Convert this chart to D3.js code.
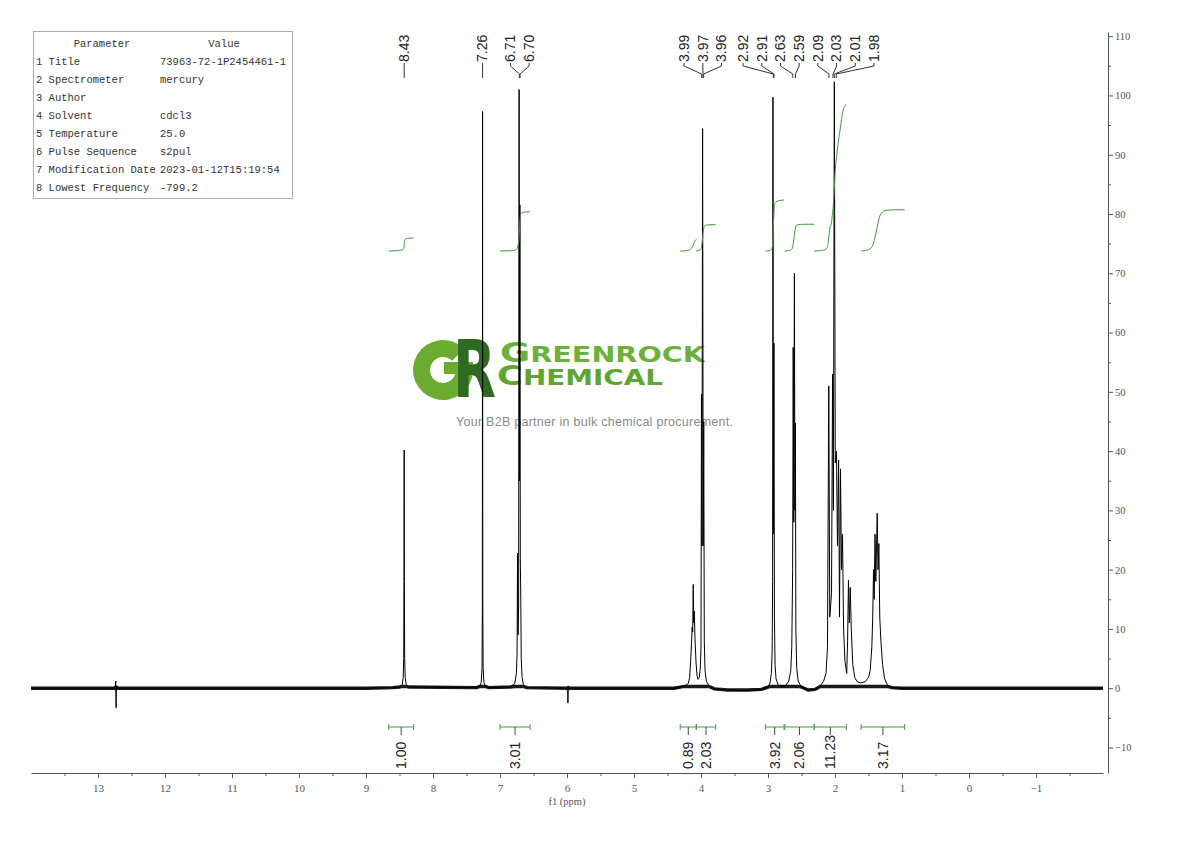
<!DOCTYPE html>
<html><head><meta charset="utf-8">
<script src="https://cdn.jsdelivr.net/npm/d3@7"></script>
<style>body{margin:0;background:#fff}svg{display:block}</style>
</head><body>
<svg id="c" width="1190" height="841"></svg>
<script>
// ---------------- DATA ----------------
const paramNames = ["1 Title","2 Spectrometer","3 Author","4 Solvent","5 Temperature","6 Pulse Sequence","7 Modification Date","8 Lowest Frequency"];
const paramValues = ["73963-72-1P2454461-1","mercury","","cdcl3","25.0","s2pul","2023-01-12T15:19:54","-799.2"];

const xTicks = [13,12,11,10,9,8,7,6,5,4,3,2,1,0,-1];
const xMinorTicks = [13.5,12.5,11.5,10.5,9.5,8.5,7.5,6.5,5.5,4.5,3.5,2.5,1.5,0.5,-0.5,-1.5];
const yTicks = [-10,0,10,20,30,40,50,60,70,80,90,100,110];
const yMinorTicks = [-5,5,15,25,35,45,55,65,75,85,95,105];

// spectrum [ppm, intensity]
const spectrum = [
[14.0,0],[12.745,0],[12.735,1.2],[12.73,-3.3],[12.725,0.4],[12.715,0],
[9.0,0],[8.6,0.1],
[8.50,0.2],[8.46,0.6],[8.445,1.8],[8.437,5],[8.433,18],[8.430,40.2],[8.427,18],[8.423,5],[8.415,1.8],[8.40,0.6],[8.36,0.2],
[7.35,0.1],[7.30,0.4],[7.28,1],[7.268,3.5],[7.263,15],[7.260,97.3],[7.257,15],[7.252,3.5],[7.24,1],[7.22,0.4],[7.17,0.1],
[6.85,0.2],[6.78,0.8],[6.755,2.5],[6.745,6],[6.738,22.8],[6.731,9],[6.722,14],[6.715,101],[6.709,35],[6.703,81.5],[6.697,22],[6.689,14.3],[6.683,5],[6.67,1.8],[6.65,0.6],[6.60,0.1],
[6.0,0],[5.99,0],[5.986,-2.5],[5.982,0.4],[5.978,0],
[4.40,0],[4.25,0.3],[4.19,0.8],[4.17,1.8],[4.155,4.5],[4.14,8],[4.132,10.3],[4.124,9.5],[4.116,17.5],[4.108,11],[4.10,13],[4.09,8.5],[4.075,4.5],[4.06,2.2],[4.045,1.5],[4.025,1.8],[4.01,3.5],[4.0,7],
[3.993,49.6],[3.985,24],[3.976,94.4],[3.967,24],[3.959,45],[3.951,8],[3.94,3],[3.92,1.2],[3.88,0.4],[3.80,-0.1],[3.6,-0.3],[3.3,-0.4],[3.1,-0.2],
[3.00,0.2],[2.97,0.9],[2.95,2.5],[2.938,6],[2.931,18],[2.926,99.7],[2.919,26],[2.911,58.2],[2.904,12],[2.895,4],[2.88,1.6],[2.85,0.6],[2.80,0.3],[2.74,0.4],[2.69,1.2],[2.66,3],[2.645,7],
[2.632,20],[2.624,57.5],[2.615,28],[2.606,70],[2.598,30],[2.591,44.7],[2.584,10],[2.572,3.5],[2.55,1.2],[2.50,0.2],[2.40,-0.3],[2.30,-0.2],[2.22,0.4],[2.17,1.2],
[2.134,2.5],[2.112,7],[2.093,51],[2.078,12],[2.052,16],[2.036,53],[2.024,30],[2.010,102.3],[1.996,38],[1.978,40],[1.963,24],[1.946,38.5],[1.933,12],[1.918,37],[1.903,20],[1.888,26],[1.872,10],[1.851,4.5],[1.825,2.5],[1.812,8],[1.799,18.2],[1.787,11],[1.772,17],[1.757,10],[1.735,4],[1.705,1.8],[1.67,1.1],[1.62,0.9],[1.55,1.1],[1.50,1.8],[1.475,3],[1.45,7],
[1.437,12],[1.425,20],[1.414,15],[1.403,26],[1.39,18],[1.370,29.5],[1.358,20],[1.345,24.4],[1.332,12],[1.315,8],[1.29,4],[1.26,1.6],[1.22,0.6],[1.15,0.1],[1.0,0],[-2.0,0]
];

// peak labels (multiplet groups)
const peakGroups = [[8.43],[7.26],[6.71,6.70],[3.99,3.97,3.96],[2.92,2.91],[2.63,2.59],[2.09,2.03,2.01,1.98]];

// integrals
const integralFrom = [8.66,7.00,4.31,4.07,3.04,2.75,2.31,1.61];
const integralTo   = [8.29,6.55,4.07,3.78,2.76,2.31,1.83,0.96];
const integralValues = [1.00,3.01,0.89,2.03,3.92,2.06,11.23,3.17];

// ---------------- DRAW ----------------
const svg = d3.select("#c");
const x = d3.scaleLinear().domain([14,-2]).range([31,1103]);
const y = d3.scaleLinear().domain([-14.3,110.7]).range([773,32]);
const yi = d3.scaleLinear().domain([0,12]).range([251,251-12*13]);

// ---- watermark logo ----
const logo = svg.append("g");
const gArc = d3.arc().innerRadius(13).outerRadius(30).startAngle(Math.PI/2).endAngle(2*Math.PI+Math.PI/4);
logo.append("path").attr("d",gArc()).attr("transform","translate(443,370)").attr("fill","#6aab30");
logo.append("rect").attr("x",444).attr("y",362).attr("width",29).attr("height",12).attr("fill","#6aab30");
logo.append("text").text("R").attr("x",453).attr("y",397)
  .attr("font-family","DejaVu Sans").attr("font-weight","bold").attr("font-size",80)
  .attr("textLength",43).attr("lengthAdjust","spacingAndGlyphs").attr("fill","#2e6a1f");
function capsText(big, rest, bx, by, bigSize, restSize, width, color){
  const t = logo.append("text").attr("font-family","DejaVu Sans").attr("font-weight","bold").attr("fill",color);
  t.append("tspan").attr("font-size",bigSize).text(big);
  t.append("tspan").attr("font-size",restSize).text(rest);
  const len = t.node().getComputedTextLength();
  t.attr("transform",`translate(${bx},${by}) scale(${width/len},1)`);
}
capsText("G","REENROCK",500,362,27,21,205,"#6cb23a");
capsText("C","HEMICAL",497,385,26,20.5,166,"#5fa62f");
logo.append("text").text("Your B2B partner in bulk chemical procurement.")
  .attr("x",594.5).attr("y",426).attr("text-anchor","middle")
  .attr("font-family","Liberation Sans").attr("font-size",12.5).attr("fill","#8a8a8a")
  .attr("textLength",277).attr("lengthAdjust","spacing");

// ---- parameter table ----
const tbl = svg.append("g").attr("font-family","Liberation Mono").attr("font-size",10.5).attr("fill","#333");
tbl.append("rect").attr("x",33.5).attr("y",31.5).attr("width",259).attr("height",167).attr("fill","#fff").attr("stroke","#aaa");
tbl.append("text").attr("x",102).attr("y",47).attr("text-anchor","middle").text("Parameter");
tbl.append("text").attr("x",224).attr("y",47).attr("text-anchor","middle").text("Value");
paramNames.forEach((n,i)=>{
  tbl.append("text").attr("x",36).attr("y",65+i*18).text(n);
  tbl.append("text").attr("x",160).attr("y",65+i*18).text(paramValues[i]);
});

// ---- axes ----
const axFont = "Liberation Serif";
const xg = svg.append("g").attr("transform","translate(0,773)")
  .call(d3.axisBottom(x).tickValues(xTicks).tickSize(5).tickSizeOuter(0).tickPadding(6).tickFormat(d3.format("d")));
svg.append("g").attr("transform","translate(0,773)")
  .call(d3.axisBottom(x).tickValues(xMinorTicks).tickSize(3).tickSizeOuter(0).tickFormat(""))
  .select(".domain").remove();
const yg = svg.append("g").attr("transform","translate(1108,0)")
  .call(d3.axisRight(y).tickValues(yTicks).tickSize(5).tickSizeOuter(0).tickPadding(2).tickFormat(d3.format("d")));
svg.append("g").attr("transform","translate(1108,0)")
  .call(d3.axisRight(y).tickValues(yMinorTicks).tickSize(3).tickSizeOuter(0).tickFormat(""))
  .select(".domain").remove();
svg.selectAll(".domain").attr("stroke","#555");
svg.selectAll(".tick line").attr("stroke","#555");
xg.selectAll("text").attr("font-family",axFont).attr("font-size",11).attr("fill","#555");
yg.selectAll("text").attr("font-family",axFont).attr("font-size",10.5).attr("fill","#555");
svg.append("text").text("f1 (ppm)").attr("x",567).attr("y",805).attr("text-anchor","middle")
  .attr("font-family",axFont).attr("font-size",10.5).attr("fill","#555");

// ---- spectrum ----
const band = d3.line().x(d=>x(d[0])).y(d=>y(Math.max(-0.3,Math.min(0.3,d[1]))));
svg.append("path").attr("d",band(spectrum)).attr("fill","none").attr("stroke","#1a1a1a").attr("stroke-width",3.4);
const line = d3.line().x(d=>x(d[0])).y(d=>y(d[1]));
svg.append("path").attr("d",line(spectrum)).attr("fill","none").attr("stroke","#000").attr("stroke-width",1);

// ---- integral curves ----
const icurve = d3.line().x(d=>d[0]).y(d=>d[1]).curve(d3.curveMonotoneX);
integralValues.forEach((val,i)=>{
  const a = integralFrom[i], b = integralTo[i];
  const seq = [[a,0]].concat(spectrum.filter(d=>d[0]<a && d[0]>b).map(d=>[d[0],Math.max(0,d[1])])).concat([[b,0]]);
  const cum=[0];
  for(let k=1;k<seq.length;k++) cum.push(cum[k-1]+(seq[k-1][0]-seq[k][0])*(seq[k-1][1]+seq[k][1])/2);
  const tot = cum[cum.length-1];
  const pts = seq.map((d,k)=>[x(d[0]), yi(val*cum[k]/tot)]);
  svg.append("path").attr("d",icurve(pts)).attr("fill","none").attr("stroke","#3a9a3a").attr("stroke-width",1);
});

// ---- integral brackets & labels ----
const ib = svg.append("g");
integralValues.forEach((val,i)=>{
  const x1 = x(integralFrom[i]), x2 = x(integralTo[i]), cx = (x1+x2)/2;
  ib.append("line").attr("x1",x1).attr("x2",x2).attr("y1",727).attr("y2",727).attr("stroke","#4a9a4a");
  [x1,x2].forEach(xx=>ib.append("line").attr("x1",xx).attr("x2",xx).attr("y1",724).attr("y2",730).attr("stroke","#4a9a4a"));
  ib.append("line").attr("x1",cx).attr("x2",cx).attr("y1",727).attr("y2",735).attr("stroke","#444");
  ib.append("text").text(val.toFixed(2)).attr("transform",`translate(${cx},769) rotate(-90)`)
    .attr("dy","0.35em").attr("font-family","Liberation Sans").attr("font-size",14).attr("fill","#222");
});

// ---- peak labels with overlap resolution ----
const GAP = 18.7;
let blocks = peakGroups.map(g=>{
  const c = d3.mean(g,p=>x(p)), n=g.length;
  return {labels: g.map((p,k)=>({ppm:p, want:c+(k-(n-1)/2)*GAP}))};
});
const bstart = b => d3.mean(b.labels,(l,k)=>l.want-k*GAP);
let changed = true;
while(changed){
  changed=false;
  for(let i=0;i<blocks.length-1;i++){
    const A=blocks[i],B=blocks[i+1];
    const aEnd = bstart(A)+(A.labels.length-1)*GAP;
    if(bstart(B)-aEnd < GAP-1e-6){
      blocks.splice(i,2,{labels:A.labels.concat(B.labels)});
      changed=true;break;
    }
  }
}
const pl = svg.append("g");
blocks.forEach(b=>{
  const s = bstart(b);
  b.labels.forEach((l,k)=>{
    const lx = s+k*GAP, px = x(l.ppm);
    pl.append("path").attr("d",`M${lx},63V66L${px},74V78`).attr("fill","none").attr("stroke","#333");
    pl.append("text").text(l.ppm.toFixed(2)).attr("transform",`translate(${lx},62) rotate(-90)`)
      .attr("dy","0.35em").attr("font-family","Liberation Sans").attr("font-size",14).attr("fill","#222");
  });
});
</script>
</body></html>
